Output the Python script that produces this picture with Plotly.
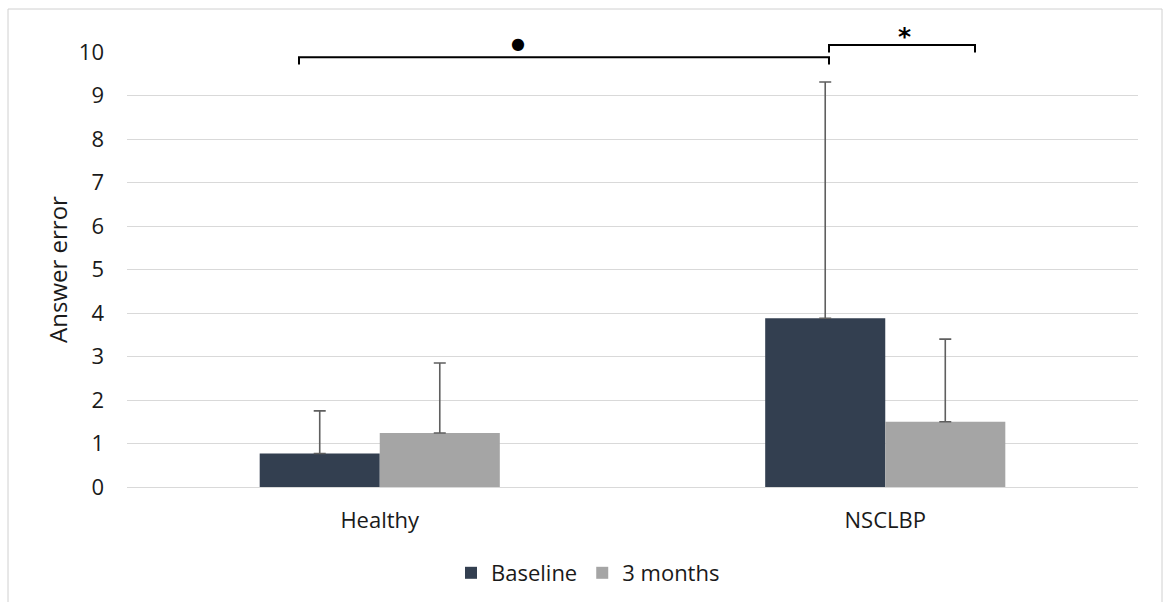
import plotly.graph_objects as go

# Group means and upper SD for each time point
categories = ["Healthy", "NSCLBP"]
baseline = [0.77, 3.88]
baseline_sd = [0.98, 5.43]
months3 = [1.24, 1.50]
months3_sd = [1.61, 1.90]
y_ticks = list(range(0, 11))

FONT = "Open Sans"
TXT = "#1a1a1a"
ERR_COLOR = "#5f5f5f"

fig = go.Figure()
fig.add_trace(go.Bar(
    name="Baseline", x=categories, y=baseline,
    marker=dict(color="#333f50", line=dict(width=0)),
    error_y=dict(type="data", symmetric=False, array=baseline_sd,
                 arrayminus=[0, 0], color=ERR_COLOR, thickness=1.6, width=6),
))
fig.add_trace(go.Bar(
    name="3 months", x=categories, y=months3,
    marker=dict(color="#a5a5a5", line=dict(width=0)),
    error_y=dict(type="data", symmetric=False, array=months3_sd,
                 arrayminus=[0, 0], color=ERR_COLOR, thickness=1.6, width=6),
))

# plot-area geometry in pixels
W, H = 1170, 602
L, R, T, B = 127, 32, 52, 115
pw, ph = W - L - R, H - T - B


def px(x):
    return (x - L) / pw


def py(y):
    return (H - B - y) / ph


shapes = []
# outer chart border
shapes.append(dict(type="rect", xref="paper", yref="paper",
                   x0=px(8), x1=px(1162), y0=py(640), y1=py(9),
                   line=dict(color="#d0d0d0", width=1), fillcolor="rgba(0,0,0,0)",
                   layer="below"))


# significance brackets
def bracket(xa, xb, y_top, y_bot):
    return dict(type="path", xref="paper", yref="paper",
                path=(f"M {px(xa)} {py(y_bot)} L {px(xa)} {py(y_top)} "
                      f"L {px(xb)} {py(y_top)} L {px(xb)} {py(y_bot)}"),
                line=dict(color="black", width=2))


shapes.append(bracket(299, 829, 57.3, 64.5))
shapes.append(bracket(829, 975, 45, 52.5))

annotations = [
    dict(xref="paper", yref="paper", x=px(518), y=py(43.5), text="●", showarrow=False,
         font=dict(family="DejaVu Sans", size=16, color="black"),
         xanchor="center", yanchor="middle"),
    dict(xref="paper", yref="paper", x=px(904), y=py(36), text="<b>*</b>", showarrow=False,
         font=dict(family="DejaVu Sans", size=25, color="black"),
         xanchor="center", yanchor="middle"),
]

fig.update_layout(
    width=W, height=H,
    margin=dict(l=L, r=R, t=T, b=B, autoexpand=False),
    paper_bgcolor="white", plot_bgcolor="white",
    barmode="group", bargap=0.525, bargroupgap=0,
    font=dict(family=FONT, size=22, color=TXT),
    shapes=shapes, annotations=annotations,
    legend=dict(orientation="h", x=px(588), xanchor="center", y=py(573), yanchor="middle",
                font=dict(size=22, color=TXT), itemwidth=30,
                traceorder="normal"),
    xaxis=dict(showgrid=False, showline=False, ticks="", ticklabelstandoff=18,
               tickfont=dict(size=22), automargin=False),
    yaxis=dict(range=[0, 10], tickvals=y_ticks, showgrid=True, gridcolor="#d9d9d9",
               gridwidth=1, zeroline=True, zerolinecolor="#d9d9d9", zerolinewidth=1,
               showline=False, ticks="", ticklabelstandoff=22, automargin=False,
               tickfont=dict(size=22),
               title=dict(text="Answer error", font=dict(size=24), standoff=4)),
)

fig.write_html("out.html")
